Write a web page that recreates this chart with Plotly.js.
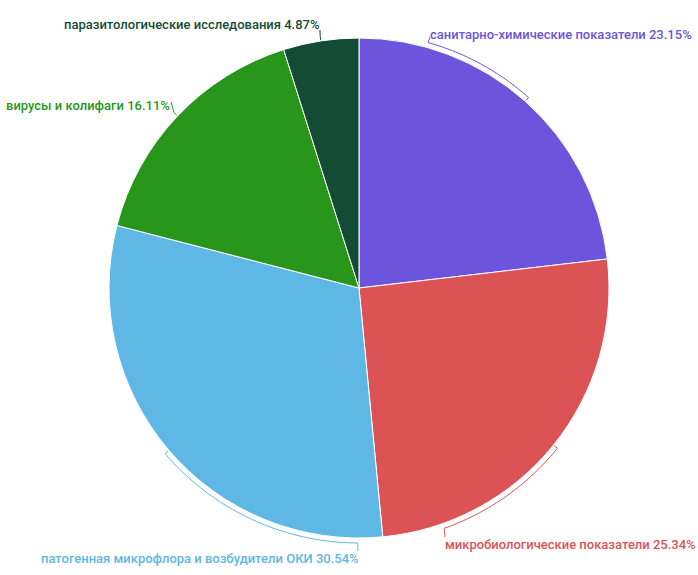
<!DOCTYPE html>
<html>
<head>
<meta charset="utf-8">
<script src="https://cdn.plot.ly/plotly-3.0.1.min.js"></script>
<style>html,body{margin:0;padding:0;background:#fff;}#chart{width:698px;height:575px;}</style>
</head>
<body>
<div id="chart"></div>
<script>
var categories = [
  "санитарно-химические показатели",
  "микробиологические показатели",
  "патогенная микрофлора и возбудители ОКИ",
  "вирусы и колифаги",
  "паразитологические исследования"
];
var values = [23.15, 25.34, 30.54, 16.11, 4.87];
var colors = ["#6c54dc", "#dc5356", "#5fb7e5", "#28961a", "#144b35"];

// ---- layout/placement settings (not data) ----
var W = 698, H = 575;
var CX = 359, CY = 288, R = 250;          // pie geometry in px (matches domain below)
var labelPos = [[428, 34, "left"], [443, 544, "left"], [361, 558, "right"], [4, 105, "left"], [322, 25, "right"]];
var arcEndDeg = [15.7, 160.5, 180.3, null, null];   // where connector leaves the arc
var labelHook = [[430, 37], [445, 537], [358, 551], [171, 102], [320, 30]];

function px2paper(x, y) { return [x / W, 1 - y / H]; }
function polar(deg, r) {
  var a = deg * Math.PI / 180;
  return [CX + r * Math.sin(a), CY - r * Math.cos(a)];
}

var total = values.reduce(function (a, b) { return a + b; }, 0);
var cum = 0;
var shapes = [];
values.forEach(function (v, i) {
  var mid = (cum + v / 2) / total * 360;
  cum += v;
  var pts = [polar(mid, 251), polar(mid, 255)];
  var end = arcEndDeg[i] === null ? mid : arcEndDeg[i];
  var n = 40;
  for (var k = 1; k <= n; k++) pts.push(polar(mid + (end - mid) * k / n, 255));
  pts.push(labelHook[i]);
  var d = pts.map(function (p, j) {
    var q = px2paper(p[0], p[1]);
    return (j === 0 ? "M" : "L") + q[0].toFixed(5) + "," + q[1].toFixed(5);
  }).join(" ");
  shapes.push({type: "path", xref: "paper", yref: "paper", path: d,
               line: {color: colors[i], width: 1}});
});

var annotations = categories.map(function (c, i) {
  var p = px2paper(labelPos[i][0], labelPos[i][1]);
  return {
    xref: "paper", yref: "paper",
    x: p[0], y: p[1],
    xanchor: labelPos[i][2], yanchor: "middle",
    text: c + " " + values[i].toFixed(2) + "%",
    showarrow: false,
    font: {family: "Roboto, sans-serif", size: 13, color: colors[i], weight: 500}
  };
});

var data = [{
  type: "pie",
  labels: categories,
  values: values,
  sort: false,
  direction: "clockwise",
  rotation: 0,
  marker: {colors: colors, line: {color: "#ffffff", width: 1}},
  textinfo: "none",
  hoverinfo: "label+percent",
  showlegend: false,
  domain: {x: [(CX - R) / W, (CX + R) / W], y: [1 - (CY + R) / H, 1 - (CY - R) / H]}
}];

var layout = {
  width: W, height: H,
  margin: {l: 0, r: 0, t: 0, b: 0},
  paper_bgcolor: "#ffffff",
  showlegend: false,
  annotations: annotations,
  shapes: shapes
};

Plotly.newPlot("chart", data, layout, {displayModeBar: false, staticPlot: true});
</script>
</body>
</html>
